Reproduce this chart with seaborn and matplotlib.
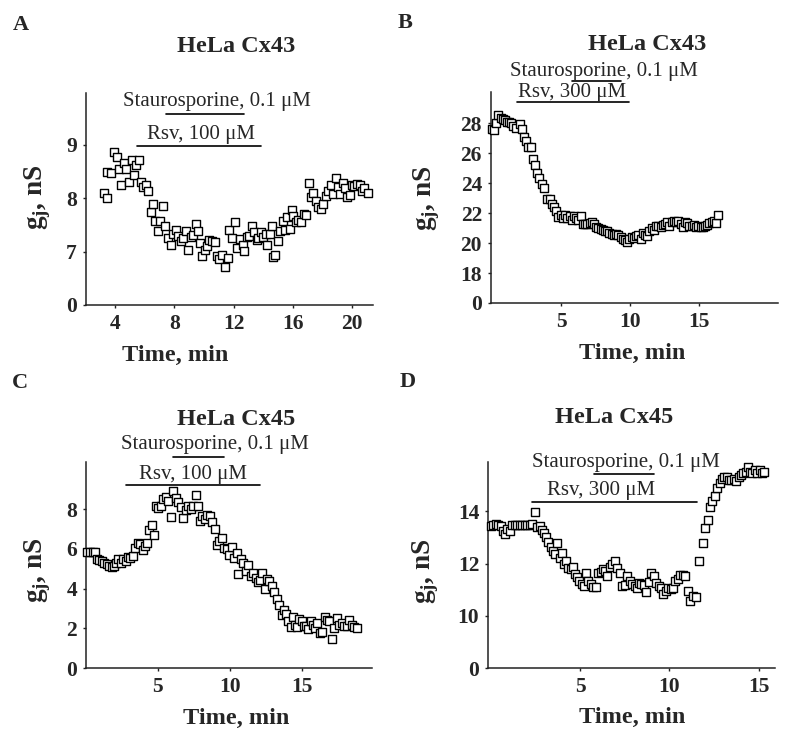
import matplotlib
matplotlib.use("Agg")
import matplotlib.pyplot as plt
import seaborn as sns
import pandas as pd

# ---- data (time in min, gj in nS) ----
a_time = [3.26, 3.44, 3.48, 3.73, 3.93, 4.11, 4.27, 4.43, 4.61, 4.74,
          4.97, 5.12, 5.28, 5.42, 5.60, 5.73, 5.91, 6.09, 6.25, 6.41,
          6.59, 6.70, 6.88, 7.06, 7.24, 7.37, 7.60, 7.76, 7.94, 8.12,
          8.27, 8.45, 8.61, 8.77, 8.95, 9.11, 9.29, 9.45, 9.63, 9.74,
          9.90, 10.05, 10.21, 10.37, 10.53, 10.75, 10.86, 11.02, 11.20, 11.43,
          11.61, 11.72, 11.92, 12.10, 12.26, 12.44, 12.62, 12.73, 12.89, 13.07,
          13.23, 13.38, 13.56, 13.68, 13.86, 14.01, 14.17, 14.28, 14.46, 14.58,
          14.69, 14.82, 14.98, 15.14, 15.32, 15.47, 15.63, 15.81, 15.97, 16.04,
          16.22, 16.38, 16.56, 16.76, 16.90, 17.08, 17.23, 17.39, 17.55, 17.73,
          17.91, 18.07, 18.25, 18.40, 18.56, 18.74, 18.90, 19.06, 19.19, 19.37,
          19.53, 19.69, 19.87, 19.98, 20.16, 20.36, 20.54, 20.70, 20.83, 21.06]
a_gj = [8.10, 8.00, 8.48, 8.46, 8.86, 8.76, 8.55, 8.24, 8.66, 8.55,
        8.30, 8.72, 8.43, 8.61, 8.71, 8.30, 8.21, 8.25, 8.13, 7.74,
        7.88, 7.58, 7.38, 7.57, 7.85, 7.47, 7.25, 7.13, 7.33, 7.41,
        7.29, 7.19, 7.25, 7.39, 7.02, 7.27, 7.31, 7.52, 7.39, 7.16,
        6.91, 7.03, 7.11, 7.21, 7.19, 7.18, 6.91, 6.86, 6.93, 6.71,
        6.88, 7.41, 7.25, 7.55, 7.07, 7.23, 7.13, 7.01, 7.27, 7.30,
        7.48, 7.36, 7.21, 7.26, 7.36, 7.27, 7.33, 7.13, 7.32, 7.48,
        6.89, 6.94, 7.19, 7.39, 7.57, 7.41, 7.64, 7.42, 7.78, 7.66,
        7.55, 7.59, 7.55, 7.71, 7.69, 8.29, 8.02, 8.09, 7.94, 7.84,
        7.80, 7.89, 8.03, 8.13, 8.24, 8.08, 8.38, 8.21, 8.08, 8.28,
        8.18, 8.02, 8.05, 8.25, 8.23, 8.27, 8.24, 8.14, 8.18, 8.09]

b_time = [-0.03, 0.14, 0.28, 0.45, 0.62, 0.77, 0.94, 1.11, 1.25, 1.40,
          1.54, 1.71, 2.03, 2.17, 2.32, 2.49, 2.63, 2.80, 2.95, 3.12,
          3.29, 3.43, 3.60, 3.77, 4.01, 4.18, 4.33, 4.50, 4.66, 4.81,
          4.98, 5.15, 5.29, 5.46, 5.63, 5.78, 5.95, 6.12, 6.26, 6.43,
          6.58, 6.75, 6.92, 7.09, 7.23, 7.40, 7.55, 7.72, 7.88, 8.03,
          8.20, 8.37, 8.51, 8.68, 8.85, 9.00, 9.17, 9.34, 9.48, 9.65,
          9.82, 9.97, 10.14, 10.31, 10.48, 10.62, 10.79, 10.94, 11.11, 11.28,
          11.42, 11.59, 11.76, 11.90, 12.07, 12.24, 12.39, 12.56, 12.73, 12.87,
          13.04, 13.21, 13.35, 13.52, 13.69, 13.84, 14.01, 14.18, 14.32, 14.49,
          14.66, 14.81, 14.98, 15.15, 15.29, 15.46, 15.63, 15.78, 15.95, 16.12,
          16.26, 16.38]
b_gj = [27.60, 27.56, 28.04, 28.56, 28.33, 28.29, 28.22, 28.11, 28.07, 28.00,
        27.78, 27.71, 27.96, 27.60, 27.10, 26.84, 26.44, 26.44, 25.62, 25.18,
        24.67, 24.33, 23.93, 23.67, 22.96, 22.93, 22.62, 22.40, 22.11, 21.73,
        21.84, 21.67, 21.89, 21.67, 21.78, 21.56, 21.82, 21.67, 21.56, 21.82,
        21.29, 21.27, 21.29, 21.33, 21.38, 21.29, 21.04, 21.00, 20.93, 20.89,
        20.82, 20.78, 20.67, 20.60, 20.56, 20.62, 20.51, 20.40, 20.29, 20.22,
        20.07, 20.27, 20.38, 20.33, 20.44, 20.56, 20.27, 20.67, 20.56, 20.44,
        20.82, 21.00, 20.89, 21.11, 21.16, 21.04, 21.22, 21.29, 21.38, 21.16,
        21.38, 21.44, 21.38, 21.44, 21.29, 21.07, 21.42, 21.33, 21.16, 21.11,
        21.22, 21.07, 21.16, 21.04, 21.04, 21.11, 21.22, 21.33, 21.38, 21.44,
        21.33, 21.84]

c_time = [0.14, 0.33, 0.50, 0.67, 0.79, 0.95, 1.13, 1.32, 1.48, 1.66,
          1.82, 1.98, 2.12, 2.28, 2.45, 2.63, 2.79, 2.93, 3.09, 3.27,
          3.44, 3.62, 3.78, 3.97, 4.13, 4.29, 4.40, 4.59, 4.77, 4.86,
          5.05, 5.23, 5.39, 5.55, 5.74, 5.92, 6.09, 6.25, 6.43, 6.62,
          6.78, 6.94, 7.12, 7.28, 7.47, 7.63, 7.81, 7.93, 8.09, 8.27,
          8.44, 8.62, 8.78, 8.97, 9.08, 9.24, 9.43, 9.59, 9.77, 9.96,
          10.12, 10.28, 10.46, 10.58, 10.74, 10.92, 11.08, 11.27, 11.43, 11.61,
          11.78, 11.92, 12.07, 12.24, 12.42, 12.58, 12.72, 12.88, 13.04, 13.23,
          13.39, 13.57, 13.73, 13.87, 14.03, 14.19, 14.33, 14.49, 14.65, 14.79,
          14.95, 15.12, 15.25, 15.42, 15.57, 15.71, 15.88, 16.04, 16.22, 16.38,
          16.57, 16.73, 16.87, 17.03, 17.21, 17.37, 17.53, 17.72, 17.88, 18.06,
          18.22, 18.41, 18.57, 18.76]
c_gj = [5.85, 5.85, 5.85, 5.85, 5.47, 5.42, 5.38, 5.30, 5.22, 5.13,
        5.10, 5.13, 5.30, 5.47, 5.30, 5.47, 5.38, 5.58, 5.55, 5.64,
        6.05, 6.30, 6.22, 5.92, 6.14, 6.30, 6.93, 7.19, 6.72, 8.15,
        8.06, 8.15, 8.52, 8.60, 8.40, 7.61, 8.93, 8.56, 8.36, 8.10,
        7.56, 7.93, 8.15, 7.98, 8.15, 8.73, 8.17, 7.39, 7.64, 7.48,
        7.70, 7.64, 7.36, 7.01, 6.17, 6.39, 6.56, 6.05, 5.97, 5.67,
        6.09, 5.55, 5.80, 4.74, 5.50, 5.27, 4.88, 5.17, 4.66, 4.80,
        4.55, 4.33, 4.46, 4.80, 3.99, 4.50, 4.38, 4.16, 3.83, 3.49,
        3.16, 2.70, 2.95, 2.75, 2.37, 2.07, 2.57, 2.20, 2.07, 2.49,
        2.37, 2.12, 2.15, 1.98, 2.37, 2.20, 2.03, 2.28, 1.78, 1.83,
        2.57, 2.45, 2.37, 1.48, 2.03, 2.54, 2.20, 2.28, 2.12, 2.15,
        2.45, 2.20, 2.07, 2.03]

d_time = [0.00, 0.15, 0.30, 0.41, 0.56, 0.67, 0.80, 0.93, 1.08, 1.21,
          1.34, 1.49, 1.62, 1.75, 1.90, 2.05, 2.20, 2.33, 2.48, 2.61,
          2.74, 2.85, 2.98, 3.12, 3.23, 3.36, 3.49, 3.60, 3.73, 3.86,
          3.97, 4.10, 4.23, 4.35, 4.48, 4.61, 4.72, 4.85, 4.96, 5.09,
          5.22, 5.35, 5.47, 5.60, 5.73, 5.88, 6.03, 6.16, 6.29, 6.40,
          6.53, 6.68, 6.81, 6.94, 7.09, 7.22, 7.35, 7.50, 7.65, 7.78,
          7.91, 8.06, 8.17, 8.30, 8.43, 8.58, 8.71, 8.86, 8.99, 9.14,
          9.27, 9.42, 9.51, 9.66, 9.79, 9.92, 10.07, 10.20, 10.32, 10.45,
          10.58, 10.73, 10.86, 11.01, 11.14, 11.29, 11.47, 11.66, 11.85, 12.00,
          12.13, 12.27, 12.40, 12.54, 12.68, 12.82, 12.93, 13.06, 13.19, 13.34,
          13.43, 13.58, 13.71, 13.86, 13.99, 14.12, 14.27, 14.40, 14.51, 14.64,
          14.77, 14.92, 15.05, 15.20, 15.26]
d_gj = [13.43, 13.48, 13.52, 13.48, 13.43, 13.26, 13.13, 13.33, 13.26, 13.46,
        13.48, 13.46, 13.48, 13.48, 13.46, 13.46, 13.46, 13.52, 13.97, 13.39,
        13.42, 13.30, 13.16, 13.01, 12.81, 12.64, 12.49, 12.38, 12.77, 12.23,
        12.42, 11.97, 12.10, 11.84, 11.78, 11.87, 11.61, 11.48, 11.33, 11.20,
        11.13, 11.65, 11.33, 11.22, 11.11, 11.09, 11.65, 11.69, 11.78, 11.71,
        11.52, 11.87, 11.97, 12.08, 11.84, 11.62, 11.13, 11.16, 11.52, 11.33,
        11.22, 11.13, 11.07, 11.26, 11.22, 11.16, 10.90, 11.30, 11.62, 11.52,
        11.26, 11.13, 11.07, 10.85, 10.94, 11.07, 11.04, 11.07, 11.33, 11.39,
        11.58, 11.58, 11.52, 10.94, 10.55, 10.74, 10.71, 12.10, 12.79, 13.35,
        13.65, 14.17, 14.39, 14.58, 14.88, 15.10, 15.24, 15.33, 15.33, 15.20,
        15.20, 15.24, 15.16, 15.33, 15.40, 15.46, 15.52, 15.69, 15.50, 15.46,
        15.59, 15.46, 15.59, 15.46, 15.50]

titles = ["HeLa Cx43", "HeLa Cx43", "HeLa Cx45", "HeLa Cx45"]
letters = ["A", "B", "C", "D"]
rsv_labels = ["Rsv, 100 \u03bcM", "Rsv, 300 \u03bcM", "Rsv, 100 \u03bcM", "Rsv, 300 \u03bcM"]
stauro_label = "Staurosporine, 0.1 \u03bcM"
# drug application windows (min)
rsv_spans = [(5.50, 13.84), (1.78, 9.94), (2.81, 12.07), (2.33, 11.56)]
stauro_spans = [(7.42, 12.73), (5.83, 9.34), (6.04, 9.61), (5.79, 9.15)]
# y ticks; lowest tick sits on the axis break and is labelled 0
yticks = [[6, 7, 8, 9], [16, 18, 20, 22, 24, 26, 28], [0, 2, 4, 6, 8], [8, 10, 12, 14]]
yticklabels = [["0", "7", "8", "9"], ["0", "18", "20", "22", "24", "26", "28"],
               ["0", "2", "4", "6", "8"], ["0", "10", "12", "14"]]
xticks = [[4, 8, 12, 16, 20], [5, 10, 15], [5, 10, 15], [5, 10, 15]]

panels = [pd.DataFrame({"time": a_time, "gj": a_gj}),
          pd.DataFrame({"time": b_time, "gj": b_gj}),
          pd.DataFrame({"time": c_time, "gj": c_gj}),
          pd.DataFrame({"time": d_time, "gj": d_gj})]

sns.set_style("ticks")
plt.rcParams["font.family"] = ["Liberation Serif", "DejaVu Serif"]
plt.rcParams["mathtext.fontset"] = "custom"
plt.rcParams["mathtext.rm"] = "Liberation Serif"
plt.rcParams["mathtext.bf"] = "Liberation Serif:bold"

W, H = 788, 740
fig = plt.figure(figsize=(W / 100, H / 100), dpi=100)

# layout in pixels: left, top, right, bottom
boxes = [(86, 93.3, 373.3, 305), (491, 91.7, 778.3, 303),
         (86, 461.7, 371.7, 668.3), (488.3, 461.7, 775, 668)]
xlims = [(2.04, 21.44), (-0.08, 20.78), (0.05, 19.8), (-0.13, 15.9)]
ylims = [(6, 9.96), (16, 30.1), (0, 10.38), (8, 15.9)]
# annotation placement (data coords): text x, text baseline y, line y
stauro_text = [(10.88, 9.72, 9.58), (8.10, 31.15, 30.82), (8.96, 11.0, 10.61), (7.59, 15.69, 15.43)]
rsv_text = [(9.78, 9.11, 8.98), (5.77, 29.77, 29.44), (7.47, 9.52, 9.22), (6.19, 14.62, 14.36)]
title_pos = [(235.7, 52), (647.3, 50), (235.8, 425), (614, 423)]
letter_pos = [(21, 30), (405.5, 28), (20, 388), (407.5, 387)]
xlabel_x = [0.31, 0.491, 0.525, 0.503]
ylabel_pos = [(-0.115, 0.508), (-0.172, 0.497), (-0.115, 0.476), (-0.165, 0.469)]

for i, df in enumerate(panels):
    l, t, r, b = boxes[i]
    ax = fig.add_axes([l / W, 1 - b / H, (r - l) / W, (b - t) / H])
    sns.scatterplot(data=df, x="time", y="gj", ax=ax, marker="s", s=30,
                    facecolor="white", edgecolor="black", linewidth=1.0,
                    legend=False, clip_on=False, zorder=3)
    ax.set_xlim(*xlims[i])
    ax.set_ylim(*ylims[i])
    ax.set_xticks(xticks[i])
    ax.set_yticks(yticks[i], yticklabels[i])
    sns.despine(ax=ax)
    for sp in ("left", "bottom"):
        ax.spines[sp].set_linewidth(1.1)
        ax.spines[sp].set_color("#222222")
    ax.tick_params(axis="both", length=2.5, width=1, pad=4, labelsize=15.5, color="#222222")
    for lab in ax.get_xticklabels() + ax.get_yticklabels():
        lab.set_fontweight("bold")

    ax.set_xlabel("Time, min", fontsize=17.5, fontweight="bold")
    ax.xaxis.set_label_coords(xlabel_x[i], -0.19)
    ax.set_ylabel(r"g$_\mathbf{j}$, nS", fontsize=19.5, fontweight="bold")
    ax.yaxis.set_label_coords(*ylabel_pos[i])

    # drug application bars
    sx, sy, sl = stauro_text[i]
    rx, ry, rl = rsv_text[i]
    ax.plot(stauro_spans[i], [sl, sl], color="black", lw=1.2, clip_on=False)
    ax.plot(rsv_spans[i], [rl, rl], color="black", lw=1.2, clip_on=False)
    ax.text(sx, sy, stauro_label, ha="center", va="baseline", fontsize=15, clip_on=False)
    ax.text(rx, ry, rsv_labels[i], ha="center", va="baseline", fontsize=15, clip_on=False)

    fig.text(title_pos[i][0] / W, 1 - title_pos[i][1] / H, titles[i],
             ha="center", va="baseline", fontsize=17.5, fontweight="bold")
    fig.text(letter_pos[i][0] / W, 1 - letter_pos[i][1] / H, letters[i],
             ha="center", va="baseline", fontsize=16, fontweight="bold")

fig.savefig("out.png", dpi=100)
